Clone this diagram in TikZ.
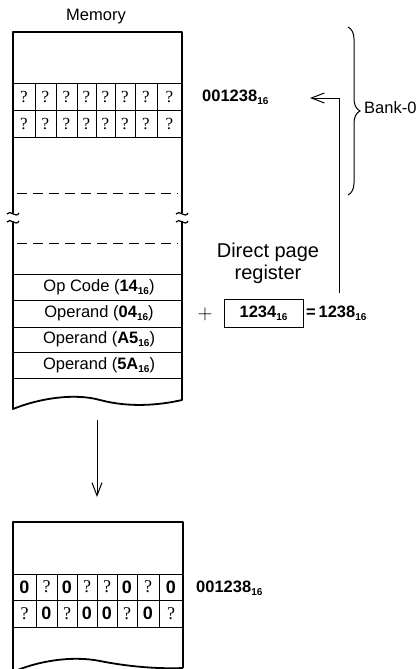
\documentclass[tikz,border=0pt]{standalone}
\usepackage{fontspec}
\setmainfont{Liberation Sans}
\newfontfamily\qfont{Liberation Serif}
\usetikzlibrary{arrows.meta,decorations.pathreplacing}
\newcommand{\hexsub}[1]{\raisebox{-0.35ex}{\fontsize{10}{10}\selectfont #1}}
\newcommand{\hx}[1]{\textbf{#1\hexsub{16}}}
\tikzset{
  outline/.style={line width=1.8pt, line join=round},
  cellline/.style={line width=0.9pt},
  dashline/.style={line width=1pt, dash pattern=on 10pt off 6pt},
  lbl/.style={font=\fontsize{16.5}{18}\selectfont, inner sep=0pt},
  biglbl/.style={font=\fontsize{20}{23}\selectfont, inner sep=0pt},
  qm/.style={font=\qfont\fontsize{17}{17}\selectfont, inner sep=0pt},
  qmb/.style={font=\qfont\fontsize{18}{18}\selectfont, inner sep=0pt},
  zr/.style={font=\bfseries\fontsize{18}{18}\selectfont, inner sep=0pt},
  conn/.style={line width=1pt, -{Straight Barb[length=13pt,width=10pt,line width=1pt]}},
  brk/.style={line width=1.2pt},
}
\begin{document}
\begin{tikzpicture}[x=1pt,y=-1pt]
\useasboundingbox (0,0) rectangle (418,669);

% ---------- top memory block ----------
\node[lbl] (memlbl) at (96,17) {Memory};
\draw[outline] (13,213) -- (13,32) -- (182,32) -- (182,213);
\draw[outline] (13,221) -- (13,409) .. controls (40,398) and (75,393) .. (100,400)
   .. controls (130,408) and (160,405) .. (182,400) -- (182,221);
% break marks
\draw[brk] (7,214) .. controls (10,209) and (16,219) .. (19,213);
\draw[brk] (7,222) .. controls (10,217) and (16,227) .. (19,221);
\draw[brk] (176,214) .. controls (179,209) and (185,219) .. (188,213);
\draw[brk] (176,222) .. controls (179,217) and (185,227) .. (188,221);

% cell rows
\foreach \yy in {83,110,137} \draw[cellline] (13,\yy) -- (182,\yy);
\foreach \xx in {35,56,77,96,115,135,157} \draw[cellline] (\xx,83) -- (\xx,137);
\foreach \a/\b [count=\i] in {13/35,35/56,56/77,77/96,96/115,115/135,135/157,157/182}{
  \node[qm] (ta\i) at ({(\a+\b)/2},96.5) {?};
  \node[qm] (tb\i) at ({(\a+\b)/2},123.5) {?};
}
\draw[dashline] (17,193) -- (178,193);
\draw[dashline] (17,243) -- (178,243);
\foreach \yy in {274,300,327,352,378} \draw[cellline] (13,\yy) -- (182,\yy);
\node[lbl] (opc) at (99,287) {Op Code (\hx{14})};
\node[lbl] (op1) at (99,313.5) {Operand (\hx{04})};
\node[lbl] (op2) at (99,339.5) {Operand (\hx{A5})};
\node[lbl] (op3) at (99,365) {Operand (\hx{5A})};

\node[lbl,anchor=west] (addr1) at (202,97) {\hx{001238}};

% ---------- direct page register ----------
\node[biglbl,anchor=base] (dpr1) at (268,257) {Direct page};
\node[biglbl,anchor=base] (dpr2) at (268,279) {register};
\node[inner sep=0pt, font=\fontsize{21}{21}\selectfont] (plus) at (205,314) {$+$};
\node[draw, line width=1pt, minimum width=79pt, minimum height=28pt, inner sep=0pt,
      font=\fontsize{16.5}{18}\selectfont] (reg) at (263.5,313) {\hx{1234}};
\node[lbl,anchor=west] (res) at (306,313) {\textbf{=\,1238\hexsub{16}}};

\coordinate (dpt) at (339,293);
\coordinate (tipA) at (310,98);
\draw[conn] (dpt) |- (tipA);

% brace
\draw[line width=1pt, decorate, decoration={brace, amplitude=12pt}] (348,27) -- (348,195);
\node[lbl,anchor=west] (bank) at (364,108) {Bank-0};

% ---------- down arrow ----------
\coordinate (d1) at (97,420);
\coordinate (d2) at (97,497);
\draw[conn] (d1) -- (d2);

% ---------- bottom memory block ----------
\draw[outline] (13,680) -- (13,522) -- (183,522) -- (183,668);
\draw[outline] (13,672) .. controls (35,662) and (70,655) .. (100,661)
   .. controls (130,667) and (160,669) .. (183,668);
\foreach \yy in {574,600,627} \draw[cellline] (13,\yy) -- (183,\yy);
\foreach \xx in {36,57,77,97,117,137,159} \draw[cellline] (\xx,574) -- (\xx,627);
\foreach \a/\b/\s [count=\i] in {13/36/z,36/57/q,57/77/z,77/97/q,97/117/q,117/137/z,137/159/q,159/183/z}{
  \if z\s \node[zr] (ba\i) at ({(\a+\b)/2},587) {0};
  \else \node[qmb] (ba\i) at ({(\a+\b)/2},587) {?}; \fi
}
\foreach \a/\b/\s [count=\i] in {13/36/q,36/57/z,57/77/q,77/97/z,97/117/z,117/137/q,137/159/z,159/183/q}{
  \if z\s \node[zr] (bb\i) at ({(\a+\b)/2},613.5) {0};
  \else \node[qmb] (bb\i) at ({(\a+\b)/2},613.5) {?}; \fi
}
\node[lbl,anchor=west] (addr2) at (196,588) {\hx{001238}};
\end{tikzpicture}
\end{document}
